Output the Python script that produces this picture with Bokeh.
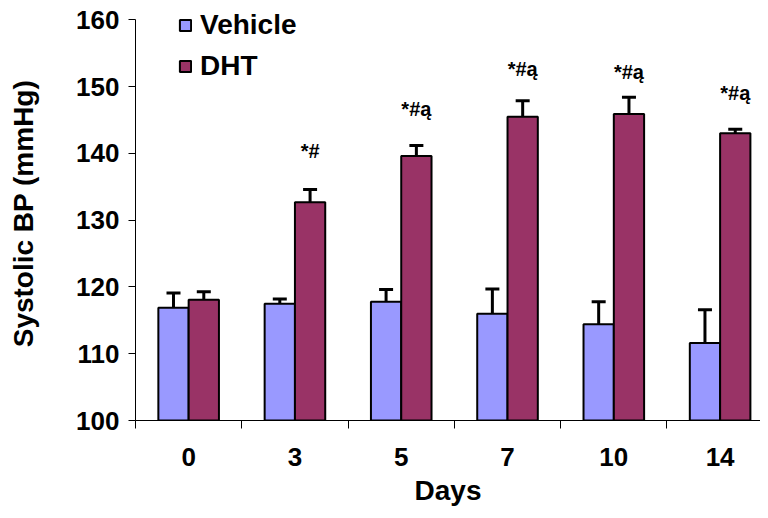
from bokeh.plotting import figure
from bokeh.models import (Range1d, FixedTicker, ColumnDataSource, Whisker, TeeHead,
                          Legend, LegendItem)
from bokeh.core.properties import value
from bokeh.embed import file_html
from bokeh.resources import INLINE

# ---- data ----
days = ["0", "3", "5", "7", "10", "14"]
vehicle = [116.9, 117.5, 117.8, 116.0, 114.4, 111.6]
vehicle_err = [2.2, 0.7, 1.8, 3.7, 3.4, 5.0]
dht = [118.1, 132.7, 139.6, 145.5, 145.9, 143.0]
dht_err = [1.2, 1.9, 1.6, 2.4, 2.5, 0.6]
annot = ["", "*#", "*#ą", "*#ą", "*#ą", "*#ą"]
annot_y = [None, 140.3, 146.7, 152.7, 152.2, 149.0]
y_ticks = [100, 110, 120, 130, 140, 150, 160]

VEH_COLOR = "#9999FF"
DHT_COLOR = "#993366"
FONT = "Liberation Sans"
bar_w = 0.285

idx = list(range(len(days)))
veh_x = [i + 0.5 - bar_w / 2 for i in idx]
dht_x = [i + 0.5 + bar_w / 2 for i in idx]

veh_src = ColumnDataSource(dict(x=veh_x, top=vehicle,
                                up=[v + e for v, e in zip(vehicle, vehicle_err)]))
dht_src = ColumnDataSource(dict(x=dht_x, top=dht,
                                up=[v + e for v, e in zip(dht, dht_err)]))

p = figure(width=760, height=510, output_backend="svg", toolbar_location=None,
           x_range=Range1d(0, 5.88), y_range=Range1d(100, 162),
           min_border_left=135, min_border_right=0, min_border_top=6,
           min_border_bottom=90)
p.outline_line_color = None
p.xgrid.visible = False
p.ygrid.visible = False
p.background_fill_color = "white"
p.border_fill_color = "white"

veh_r = p.vbar(x="x", width=bar_w, top="top", bottom=100, source=veh_src,
               fill_color=VEH_COLOR, line_color="black", line_width=2)
dht_r = p.vbar(x="x", width=bar_w, top="top", bottom=100, source=dht_src,
               fill_color=DHT_COLOR, line_color="black", line_width=2)

for src in (veh_src, dht_src):
    w = Whisker(base="x", lower="top", upper="up", source=src,
                line_color="black", line_width=3,
                upper_head=TeeHead(size=14, line_width=3, line_color="black"),
                lower_head=None)
    p.add_layout(w)

ann_x = [dht_x[i] for i in idx if annot[i]]
ann_y = [annot_y[i] for i in idx if annot[i]]
ann_t = [annot[i] for i in idx if annot[i]]
p.text(x=ann_x, y=ann_y, text=ann_t, text_align="center", text_baseline="middle",
       text_font=value(FONT), text_font_style="bold", text_font_size="20px",
       text_color="black")

# y axis (line drawn only from 100 to 160)
ya = p.yaxis[0]
ya.ticker = FixedTicker(ticks=y_ticks)
ya.bounds = (y_ticks[0], y_ticks[-1])
ya.minor_tick_line_color = None
ya.major_tick_out = 7
ya.major_tick_in = 0
ya.major_label_standoff = 9
ya.major_label_text_font = FONT
ya.major_label_text_font_style = "bold"
ya.major_label_text_font_size = "26px"
ya.major_label_text_color = "black"
ya.axis_label = "Systolic BP (mmHg)"
ya.axis_label_text_font = FONT
ya.axis_label_text_font_style = "bold"
ya.axis_label_text_font_size = "28px"
ya.axis_label_text_color = "black"
ya.axis_label_standoff = 34
ya.axis_line_color = "black"
ya.major_tick_line_color = "black"

# x axis: tick marks at category boundaries, labels at centres
xa = p.xaxis[0]
centers = [i + 0.5 for i in idx]
xa.ticker = FixedTicker(ticks=centers, minor_ticks=list(range(len(days) + 1)))
xa.major_label_overrides = {c: d for c, d in zip(centers, days)}
xa.major_tick_line_color = None
xa.minor_tick_line_color = "black"
xa.minor_tick_out = 8
xa.minor_tick_in = 0
xa.major_label_standoff = 19
xa.major_label_text_font = FONT
xa.major_label_text_font_style = "bold"
xa.major_label_text_font_size = "26px"
xa.major_label_text_color = "black"
xa.axis_label = "Days"
xa.axis_label_text_font = FONT
xa.axis_label_text_font_style = "bold"
xa.axis_label_text_font_size = "28px"
xa.axis_label_text_color = "black"
xa.axis_label_standoff = 6
xa.axis_line_color = "black"

legend = Legend(items=[LegendItem(label="Vehicle", renderers=[veh_r]),
                       LegendItem(label="DHT", renderers=[dht_r])],
                location=(43, 338), padding=0, spacing=9, margin=0,
                glyph_width=14, glyph_height=14, label_standoff=8,
                label_text_font=FONT, label_text_font_style="bold",
                label_text_font_size="28px", label_text_color="black",
                border_line_color=None, background_fill_alpha=0)
p.add_layout(legend)

open("out.html", "w").write(file_html(p, INLINE))
